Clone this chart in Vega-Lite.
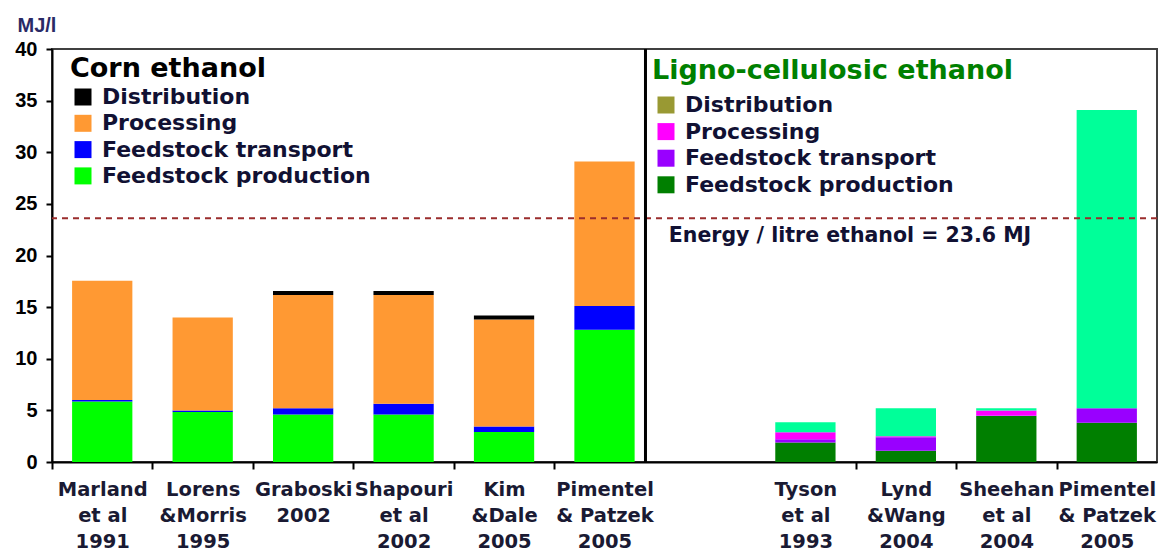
{
  "$schema": "https://vega.github.io/schema/vega-lite/v6.json",
  "width": 1105,
  "height": 413,
  "autosize": {"type": "none"},
  "padding": {"left": 52, "top": 49, "right": 14, "bottom": 90},
  "background": "white",
  "config": {
    "view": {"stroke": "#404040", "strokeWidth": 2},
    "axis": {"grid": false},
    "legend": {
      "labelFont": "DejaVu Sans",
      "labelFontWeight": "bold",
      "labelFontSize": 22,
      "labelColor": "#111133",
      "titleFont": "DejaVu Sans",
      "titleFontWeight": "bold",
      "titleFontSize": 27,
      "symbolType": "square",
      "symbolSize": 289,
      "symbolStrokeWidth": 0,
      "symbolOpacity": 1,
      "rowPadding": 4.3,
      "labelOffset": 8,
      "padding": 0,
      "labelLimit": 0,
      "titleLimit": 0
    }
  },
  "datasets": {
    "corn": [
      {"study": "Marland|et al|1991", "part": "Feedstock production", "rank": 1, "mj": 5.85},
      {"study": "Marland|et al|1991", "part": "Feedstock transport", "rank": 2, "mj": 0.15},
      {"study": "Marland|et al|1991", "part": "Processing", "rank": 3, "mj": 11.55},
      {"study": "Lorens|&Morris|1995", "part": "Feedstock production", "rank": 1, "mj": 4.85},
      {"study": "Lorens|&Morris|1995", "part": "Feedstock transport", "rank": 2, "mj": 0.15},
      {"study": "Lorens|&Morris|1995", "part": "Processing", "rank": 3, "mj": 9.0},
      {"study": "Graboski|2002", "part": "Feedstock production", "rank": 1, "mj": 4.6},
      {"study": "Graboski|2002", "part": "Feedstock transport", "rank": 2, "mj": 0.6},
      {"study": "Graboski|2002", "part": "Processing", "rank": 3, "mj": 10.97},
      {"study": "Graboski|2002", "part": "Distribution", "rank": 5, "mj": 0.38},
      {"study": "Shapouri|et al|2002", "part": "Feedstock production", "rank": 1, "mj": 4.6},
      {"study": "Shapouri|et al|2002", "part": "Feedstock transport", "rank": 2, "mj": 1.05},
      {"study": "Shapouri|et al|2002", "part": "Processing", "rank": 3, "mj": 10.52},
      {"study": "Shapouri|et al|2002", "part": "Distribution", "rank": 5, "mj": 0.38},
      {"study": "Kim|&Dale|2005", "part": "Feedstock production", "rank": 1, "mj": 2.9},
      {"study": "Kim|&Dale|2005", "part": "Feedstock transport", "rank": 2, "mj": 0.55},
      {"study": "Kim|&Dale|2005", "part": "Processing", "rank": 3, "mj": 10.35},
      {"study": "Kim|&Dale|2005", "part": "Distribution", "rank": 5, "mj": 0.4},
      {"study": "Pimentel|& Patzek|2005", "part": "Feedstock production", "rank": 1, "mj": 12.8},
      {"study": "Pimentel|& Patzek|2005", "part": "Feedstock transport", "rank": 2, "mj": 2.3},
      {"study": "Pimentel|& Patzek|2005", "part": "Processing", "rank": 3, "mj": 14.0}
    ],
    "ligno": [
      {"study": "Tyson|et al|1993", "part": "Feedstock production", "rank": 1, "mj": 1.9},
      {"study": "Tyson|et al|1993", "part": "Feedstock transport", "rank": 2, "mj": 0.3},
      {"study": "Tyson|et al|1993", "part": "Processing", "rank": 3, "mj": 0.68},
      {"study": "Tyson|et al|1993", "part": "Conversion", "rank": 4, "mj": 0.97},
      {"study": "Lynd|&Wang|2004", "part": "Feedstock production", "rank": 1, "mj": 1.1},
      {"study": "Lynd|&Wang|2004", "part": "Feedstock transport", "rank": 2, "mj": 1.3},
      {"study": "Lynd|&Wang|2004", "part": "Processing", "rank": 3, "mj": 0.1},
      {"study": "Lynd|&Wang|2004", "part": "Conversion", "rank": 4, "mj": 2.7},
      {"study": "Sheehan|et al|2004", "part": "Feedstock production", "rank": 1, "mj": 4.45},
      {"study": "Sheehan|et al|2004", "part": "Feedstock transport", "rank": 2, "mj": 0.05},
      {"study": "Sheehan|et al|2004", "part": "Processing", "rank": 3, "mj": 0.5},
      {"study": "Sheehan|et al|2004", "part": "Conversion", "rank": 4, "mj": 0.2},
      {"study": "Pimentel|& Patzek|2005 ", "part": "Feedstock production", "rank": 1, "mj": 3.8},
      {"study": "Pimentel|& Patzek|2005 ", "part": "Feedstock transport", "rank": 2, "mj": 1.4},
      {"study": "Pimentel|& Patzek|2005 ", "part": "Conversion", "rank": 4, "mj": 28.9}
    ],
    "threshold": [{"mj": 23.6}],
    "separator": [{"study": "Pimentel|& Patzek|2005"}],
    "note": [{"study": "-", "mj": 21.9, "text": "Energy / litre ethanol = 23.6 MJ"}]
  },
  "layer": [
    {
      "data": {"name": "corn"},
      "mark": {"type": "bar"},
      "encoding": {
        "x": {
          "field": "study",
          "type": "nominal",
          "scale": {
            "domain": ["Marland|et al|1991", "Lorens|&Morris|1995", "Graboski|2002", "Shapouri|et al|2002", "Kim|&Dale|2005", "Pimentel|& Patzek|2005", "-", "Tyson|et al|1993", "Lynd|&Wang|2004", "Sheehan|et al|2004", "Pimentel|& Patzek|2005 "],
            "paddingInner": 0.4,
            "paddingOuter": 0.2
          },
          "axis": {
            "title": null,
            "labelExpr": "datum.value == '-' ? '' : split(datum.value, '|')",
            "labelFont": "DejaVu Sans",
            "labelFontWeight": "bold",
            "labelFontSize": 19.5,
            "labelColor": "#1a1a33",
            "labelLineHeight": 26,
            "labelPadding": 11,
            "labelAngle": 0,
            "labelBaseline": "top",
            "labelOverlap": false,
            "labelBound": false,
            "labelLimit": 0,
            "tickSize": 7,
            "tickWidth": 2,
            "tickColor": "black",
            "domainColor": "black",
            "domainWidth": 2,
            "bandPosition": 0.5,
            "tickOffset": -50.23,
            "labelOffset": 50.23,
            "tickOpacity": {"condition": {"test": "datum.value === '-' || datum.value === 'Tyson|et al|1993'", "value": 0}, "value": 1}
          }
        },
        "y": {
          "field": "mj",
          "type": "quantitative",
          "stack": "zero",
          "scale": {"domain": [0, 40], "nice": false},
          "axis": {
            "title": "MJ/l",
            "titleAngle": 0,
            "titleAlign": "left",
            "titleBaseline": "middle",
            "titleX": -35,
            "titleY": -24,
            "titleFont": "Liberation Sans",
            "titleFontSize": 20,
            "titleFontWeight": "bold",
            "titleColor": "#2a2a66",
            "values": [0, 5, 10, 15, 20, 25, 30, 35, 40],
            "labelFont": "Liberation Sans",
            "labelFontWeight": "bold",
            "labelFontSize": 20,
            "labelColor": "black",
            "labelPadding": 9,
            "tickSize": 6,
            "tickWidth": 2,
            "tickColor": "black",
            "domainColor": "black",
            "domainWidth": 2,
            "grid": false
          }
        },
        "color": {
          "field": "part",
          "type": "nominal",
          "scale": {
            "domain": ["Distribution", "Processing", "Feedstock transport", "Feedstock production"],
            "range": ["#000000", "#FF9933", "#0000FF", "#00FF00"]
          },
          "legend": {
            "title": "Corn ethanol",
            "titleColor": "#000000",
            "orient": "none",
            "legendX": 18,
            "legendY": 7,
            "titlePadding": 3,
            "symbolOffset": 2
          }
        },
        "order": {"field": "rank", "type": "quantitative"}
      }
    },
    {
      "data": {"name": "ligno"},
      "mark": {"type": "bar"},
      "encoding": {
        "x": {
          "field": "study",
          "type": "nominal",
          "scale": {
            "domain": ["Marland|et al|1991", "Lorens|&Morris|1995", "Graboski|2002", "Shapouri|et al|2002", "Kim|&Dale|2005", "Pimentel|& Patzek|2005", "-", "Tyson|et al|1993", "Lynd|&Wang|2004", "Sheehan|et al|2004", "Pimentel|& Patzek|2005 "],
            "paddingInner": 0.4,
            "paddingOuter": 0.2
          }
        },
        "y": {"field": "mj", "type": "quantitative", "stack": "zero"},
        "color": {
          "field": "part",
          "type": "nominal",
          "scale": {
            "domain": ["Distribution", "Processing", "Feedstock transport", "Feedstock production", "Conversion"],
            "range": ["#999933", "#FF00FF", "#9900FF", "#007F00", "#00FF99"]
          },
          "legend": {
            "title": "Ligno-cellulosic ethanol",
            "titleColor": "#008000",
            "values": ["Distribution", "Processing", "Feedstock transport", "Feedstock production"],
            "orient": "none",
            "legendX": 600,
            "legendY": 9,
            "titlePadding": 9,
            "symbolOffset": 3,
            "rowPadding": 4.6
          }
        },
        "order": {"field": "rank", "type": "quantitative"}
      }
    },
    {
      "data": {"name": "threshold"},
      "mark": {"type": "rule", "color": "#9B2D2D", "strokeWidth": 2, "strokeDash": [6, 5]},
      "encoding": {
        "y": {"field": "mj", "type": "quantitative"}
      }
    },
    {
      "data": {"name": "separator"},
      "mark": {"type": "rule", "color": "black", "strokeWidth": 3},
      "encoding": {
        "x": {"field": "study", "type": "nominal", "bandPosition": 1.18}
      }
    },
    {
      "data": {"name": "note"},
      "mark": {"type": "text", "align": "left", "baseline": "middle", "font": "DejaVu Sans", "fontWeight": "bold", "fontSize": 20.5, "color": "#111133"},
      "encoding": {
        "x": {"field": "study", "type": "nominal", "bandPosition": -0.1},
        "y": {"field": "mj", "type": "quantitative"},
        "text": {"field": "text", "type": "nominal"}
      }
    }
  ],
  "resolve": {"scale": {"color": "independent"}}
}
